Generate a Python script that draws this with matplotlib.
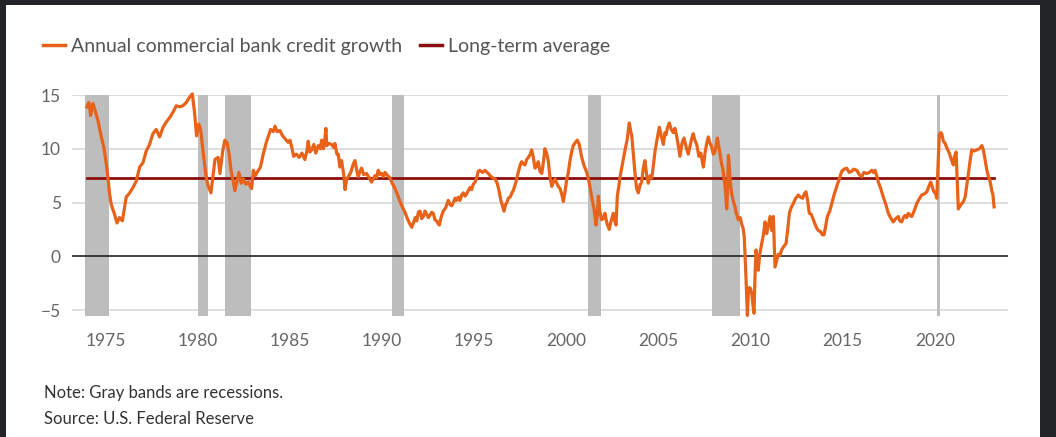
import numpy as np
import matplotlib
matplotlib.use("Agg")
import matplotlib.pyplot as plt
from matplotlib.patches import Rectangle

plt.rcParams['font.family'] = ['Lato', 'DejaVu Sans']

# Annual commercial bank credit growth, % (decimal year, value)
years = [
    1973.98, 1974.09, 1974.18, 1974.31, 1974.40, 1974.58, 1974.76, 1974.90, 1975.03, 1975.12,
    1975.21, 1975.30, 1975.48, 1975.61, 1975.75, 1975.90, 1976.02, 1976.11, 1976.30, 1976.48,
    1976.66, 1976.84, 1977.02, 1977.20, 1977.38, 1977.56, 1977.74, 1977.92, 1978.11, 1978.29,
    1978.47, 1978.65, 1978.83, 1979.01, 1979.19, 1979.37, 1979.55, 1979.70, 1979.82, 1979.93,
    1980.05, 1980.15, 1980.30, 1980.45, 1980.55, 1980.71, 1980.80, 1980.93, 1981.10, 1981.20,
    1981.35, 1981.47, 1981.60, 1981.70, 1981.80, 1981.92, 1982.01, 1982.10, 1982.23, 1982.35,
    1982.47, 1982.60, 1982.74, 1982.85, 1982.92, 1983.01, 1983.12, 1983.25, 1983.40, 1983.55,
    1983.70, 1983.85, 1983.95, 1984.10, 1984.19, 1984.30, 1984.45, 1984.60, 1984.75, 1984.90,
    1985.00, 1985.09, 1985.20, 1985.35, 1985.50, 1985.65, 1985.81, 1985.92, 1985.99, 1986.08,
    1986.18, 1986.30, 1986.40, 1986.54, 1986.65, 1986.72, 1986.82, 1986.90, 1986.95, 1987.00,
    1987.12, 1987.26, 1987.38, 1987.44, 1987.55, 1987.62, 1987.71, 1987.80, 1987.92, 1987.99,
    1988.08, 1988.17, 1988.30, 1988.44, 1988.53, 1988.62, 1988.71, 1988.80, 1988.89, 1989.00,
    1989.16, 1989.30, 1989.43, 1989.52, 1989.61, 1989.70, 1989.79, 1989.90, 1989.98, 1990.07,
    1990.16, 1990.30, 1990.43, 1990.55, 1990.70, 1990.80, 1990.97, 1991.10, 1991.24, 1991.40,
    1991.51, 1991.61, 1991.70, 1991.80, 1991.88, 1991.97, 1992.06, 1992.15, 1992.24, 1992.33,
    1992.42, 1992.51, 1992.60, 1992.69, 1992.78, 1992.87, 1992.96, 1993.05, 1993.11, 1993.20,
    1993.32, 1993.45, 1993.59, 1993.70, 1993.78, 1993.87, 1993.96, 1994.05, 1994.14, 1994.23,
    1994.32, 1994.41, 1994.50, 1994.59, 1994.68, 1994.77, 1994.86, 1994.95, 1995.05, 1995.14,
    1995.22, 1995.31, 1995.45, 1995.59, 1995.70, 1995.77, 1995.86, 1996.00, 1996.13, 1996.25,
    1996.35, 1996.45, 1996.55, 1996.62, 1996.70, 1996.78, 1996.85, 1996.95, 1997.05, 1997.12,
    1997.25, 1997.39, 1997.50, 1997.58, 1997.66, 1997.76, 1997.85, 1997.94, 1998.05, 1998.12,
    1998.20, 1998.30, 1998.40, 1998.48, 1998.57, 1998.67, 1998.76, 1998.84, 1998.93, 1999.02,
    1999.11, 1999.21, 1999.30, 1999.39, 1999.48, 1999.57, 1999.66, 1999.75, 1999.84, 1999.93,
    2000.02, 2000.11, 2000.20, 2000.30, 2000.38, 2000.50, 2000.60, 2000.70, 2000.84, 2000.95,
    2001.11, 2001.25, 2001.38, 2001.50, 2001.61, 2001.68, 2001.74, 2001.82, 2001.92, 2002.00,
    2002.10, 2002.20, 2002.33, 2002.42, 2002.55, 2002.63, 2002.70, 2002.77, 2002.85, 2002.92,
    2003.05, 2003.19, 2003.30, 2003.42, 2003.50, 2003.55, 2003.64, 2003.73, 2003.82, 2003.91,
    2004.00, 2004.09, 2004.18, 2004.27, 2004.36, 2004.45, 2004.55, 2004.64, 2004.73, 2004.82,
    2004.93, 2005.05, 2005.15, 2005.27, 2005.35, 2005.41, 2005.50, 2005.59, 2005.70, 2005.81,
    2005.90, 2005.99, 2006.08, 2006.17, 2006.28, 2006.39, 2006.50, 2006.62, 2006.72, 2006.80,
    2006.89, 2006.98, 2007.08, 2007.20, 2007.30, 2007.44, 2007.53, 2007.62, 2007.71, 2007.80,
    2007.89, 2007.98, 2008.07, 2008.20, 2008.27, 2008.34, 2008.43, 2008.49, 2008.56, 2008.62,
    2008.71, 2008.76, 2008.80, 2008.85, 2008.89, 2008.98, 2009.07, 2009.16, 2009.21, 2009.34,
    2009.44, 2009.52, 2009.60, 2009.66, 2009.72, 2009.76, 2009.83, 2009.88, 2009.94, 2010.00,
    2010.07, 2010.13, 2010.19, 2010.24, 2010.30, 2010.36, 2010.42, 2010.50, 2010.61, 2010.70,
    2010.79, 2010.84, 2010.88, 2010.97, 2011.06, 2011.15, 2011.20, 2011.24, 2011.28, 2011.33,
    2011.42, 2011.51, 2011.60, 2011.69, 2011.80, 2011.93, 2012.02, 2012.11, 2012.20, 2012.32,
    2012.45, 2012.60, 2012.70, 2012.83, 2012.92, 2013.01, 2013.10, 2013.19, 2013.30, 2013.41,
    2013.50, 2013.60, 2013.68, 2013.80, 2013.90, 2013.99, 2014.08, 2014.17, 2014.30, 2014.41,
    2014.55, 2014.68, 2014.80, 2014.95, 2015.08, 2015.22, 2015.35, 2015.49, 2015.60, 2015.77,
    2015.90, 2016.04, 2016.15, 2016.31, 2016.45, 2016.58, 2016.67, 2016.76, 2016.85, 2016.94,
    2017.05, 2017.21, 2017.35, 2017.48, 2017.60, 2017.75, 2017.88, 2018.02, 2018.10, 2018.21,
    2018.30, 2018.39, 2018.48, 2018.57, 2018.66, 2018.75, 2018.88, 2019.02, 2019.15, 2019.29,
    2019.43, 2019.57, 2019.68, 2019.78, 2019.86, 2019.93, 2020.05, 2020.11, 2020.18, 2020.25,
    2020.32, 2020.38, 2020.47, 2020.56, 2020.68, 2020.79, 2020.90, 2021.01, 2021.08, 2021.16,
    2021.22, 2021.28, 2021.38, 2021.47, 2021.56, 2021.65, 2021.74, 2021.83, 2021.92, 2022.01,
    2022.15, 2022.29, 2022.42, 2022.56, 2022.65, 2022.74, 2022.83, 2022.92, 2023.00, 2023.10,
    2023.16, 2023.22,
]
growth = [
    13.9, 14.3, 13.1, 14.2, 13.7, 12.6, 11.1, 10.1, 8.6, 7.3,
    5.8, 4.8, 3.9, 3.1, 3.6, 3.3, 4.5, 5.5, 5.9, 6.4,
    7.0, 8.3, 8.7, 9.8, 10.4, 11.4, 11.8, 11.1, 12.0, 12.5,
    12.9, 13.4, 14.0, 13.9, 14.0, 14.3, 14.8, 15.1, 13.4, 11.2,
    12.3, 11.8, 9.5, 7.4, 6.6, 5.9, 7.2, 9.0, 9.2, 7.7,
    9.8, 10.8, 10.5, 9.5, 8.0, 7.0, 6.1, 6.8, 7.8, 6.8,
    7.2, 6.7, 6.9, 6.5, 6.3, 8.0, 7.5, 7.9, 8.3, 9.5,
    10.5, 11.3, 11.8, 11.6, 12.1, 11.6, 11.7, 11.2, 10.9, 10.6,
    10.8, 10.2, 9.3, 9.5, 9.2, 9.6, 9.0, 9.8, 10.7, 9.7,
    9.9, 10.4, 9.6, 10.3, 10.0, 10.8, 10.0, 11.0, 11.9, 10.3,
    10.5, 10.4, 10.1, 10.5, 9.5, 9.5, 8.3, 8.9, 7.6, 6.2,
    7.2, 7.4, 7.8, 8.6, 8.9, 8.0, 7.4, 7.9, 8.2, 7.6,
    7.7, 7.3, 6.9, 7.2, 7.5, 7.3, 8.0, 7.6, 7.7, 7.4,
    7.8, 7.5, 7.3, 6.8, 6.3, 5.9, 5.1, 4.6, 4.1, 3.4,
    3.0, 2.7, 3.1, 3.6, 3.3, 4.1, 4.2, 3.5, 3.7, 4.2,
    3.9, 3.6, 3.8, 4.1, 4.0, 3.4, 3.3, 3.0, 2.9, 3.6,
    4.2, 4.5, 5.2, 4.8, 4.7, 5.0, 5.4, 5.2, 5.5, 5.2,
    5.7, 5.9, 5.6, 5.8, 6.1, 6.4, 6.2, 6.7, 6.9, 7.3,
    7.9, 8.0, 7.8, 8.0, 7.8, 7.7, 7.5, 7.3, 7.2, 6.8,
    6.1, 5.2, 4.6, 4.2, 4.8, 5.0, 5.4, 5.5, 5.9, 6.1,
    6.8, 7.8, 8.5, 8.8, 8.6, 8.5, 9.0, 9.2, 9.5, 9.9,
    9.3, 8.2, 8.4, 8.8, 7.9, 7.7, 8.8, 10.0, 9.6, 8.9,
    7.4, 6.5, 6.9, 7.2, 6.8, 6.5, 6.3, 5.8, 5.1, 6.0,
    7.1, 7.8, 8.9, 9.8, 10.3, 10.6, 10.8, 10.4, 9.2, 8.5,
    7.8, 6.8, 5.5, 4.5, 2.9, 3.8, 5.6, 4.2, 3.4, 3.5,
    4.0, 3.1, 2.5, 3.2, 4.0, 3.3, 2.9, 5.6, 6.5, 7.4,
    8.6, 9.9, 10.8, 12.4, 11.6, 11.3, 9.5, 7.7, 6.3, 5.9,
    6.6, 6.9, 8.2, 8.9, 7.6, 6.8, 7.5, 7.3, 8.5, 9.8,
    10.9, 12.0, 11.2, 10.4, 11.5, 11.3, 12.0, 12.4, 11.8, 11.5,
    11.9, 11.2, 10.3, 9.3, 10.5, 11.0, 10.2, 9.5, 10.3, 10.9,
    11.4, 10.8, 10.4, 9.3, 9.6, 8.3, 9.6, 10.5, 11.1, 10.5,
    10.2, 9.5, 9.7, 11.0, 10.3, 9.6, 8.6, 8.2, 7.3, 6.5,
    4.4, 6.5, 9.4, 8.4, 7.1, 5.8, 5.1, 4.6, 4.1, 3.4,
    3.6, 3.0, 2.6, 1.8, -0.5, -2.2, -5.5, -3.5, -2.9, -3.0,
    -3.5, -4.5, -5.3, -2.0, 0.6, -0.3, -1.3, 0.2, 1.2, 2.0,
    3.2, 2.4, 2.1, 2.9, 3.7, 2.4, 3.1, 3.7, 1.5, -1.0,
    -0.4, 0.2, 0.1, 0.6, 0.9, 1.2, 2.5, 4.0, 4.5, 4.9,
    5.4, 5.7, 5.5, 5.4, 5.8, 6.0, 5.2, 4.0, 3.9, 3.4,
    3.0, 2.6, 2.4, 2.3, 2.0, 2.0, 2.8, 3.7, 4.2, 4.9,
    5.8, 6.5, 7.1, 7.9, 8.1, 8.2, 7.8, 7.9, 8.1, 8.0,
    7.6, 7.4, 7.8, 7.7, 7.8, 8.0, 7.8, 8.0, 7.5, 6.9,
    6.4, 5.5, 4.8, 4.0, 3.6, 3.2, 3.5, 3.7, 3.3, 3.2,
    3.6, 3.8, 3.6, 4.0, 3.8, 3.7, 4.2, 4.9, 5.3, 5.7,
    5.8, 6.0, 6.5, 6.9, 6.5, 6.1, 5.8, 5.4, 8.5, 11.3,
    11.5, 11.4, 10.7, 10.5, 10.0, 9.6, 9.0, 8.5, 9.3, 9.7,
    7.0, 4.4, 4.7, 4.9, 5.1, 5.5, 6.6, 7.7, 8.9, 9.9,
    9.8, 9.9, 10.0, 10.3, 9.8, 8.9, 8.0, 7.4, 7.0, 6.1,
    5.7, 4.6,
]
long_term_avg = 7.3

# recession periods (start, end)
recessions = [
    (1973.87, 1975.20), (1980.00, 1980.55), (1981.50, 1982.88),
    (1990.55, 1991.20), (2001.20, 2001.88), (2007.92, 2009.45),
    (2020.10, 2020.30),
]

xticks = [1975, 1980, 1985, 1990, 1995, 2000, 2005, 2010, 2015, 2020]
yticks = [-5, 0, 5, 10, 15]

orange = '#e8621a'
darkred = '#8c0f0f'

fig = plt.figure(figsize=(10.56, 4.37), dpi=100, facecolor='#222428')
# white card
fig.patches.append(Rectangle((0.006, 0), 0.979, 0.988, transform=fig.transFigure,
                             facecolor='white', edgecolor='none', zorder=-10))

ax = fig.add_axes([0.0682, 0.2769, 0.8864, 0.5057])
ax.set_facecolor('white')

for start, end in recessions:
    ax.axvspan(start, end, color='#bdbdbd', lw=0, zorder=1)

for y in yticks:
    if y != 0:
        ax.axhline(y, color='#d4d4d4', lw=1.1, zorder=0)
ax.axhline(0, color='#222222', lw=1.2, zorder=2)

ax.plot(years, growth, color=orange, lw=2.3, zorder=4, clip_on=False,
        solid_joinstyle='round')
ax.plot([years[0], years[-1]], [long_term_avg, long_term_avg], color=darkred,
        lw=2.0, zorder=3)

ax.set_xlim(1973.17, 2023.98)
ax.set_ylim(-5.55, 15)
ax.set_xticks(xticks)
ax.set_xticklabels([str(t) for t in xticks])
ax.set_yticks(yticks)
ax.set_yticklabels(['\u22125', '0', '5', '10', '15'])
ax.tick_params(length=0, labelsize=12.5, colors='#666666')
ax.tick_params(axis='x', pad=12)
ax.tick_params(axis='y', pad=8)
for s in ax.spines.values():
    s.set_visible(False)

# legend
handles = [plt.Line2D([], [], color=orange, lw=2.5),
           plt.Line2D([], [], color=darkred, lw=2.5)]
fig.legend(handles, ['Annual commercial bank credit growth', 'Long-term average'],
           loc='center left', bbox_to_anchor=(0.041, 0.894), ncol=2, frameon=False,
           fontsize=14, handlelength=1.1, handletextpad=0.35,
           columnspacing=0.9, borderpad=0, borderaxespad=0, labelcolor='#555555')

fig.text(0.042, 1 - 393 / 437, 'Note: Gray bands are recessions.', fontsize=12,
         color='#333333', va='center')
fig.text(0.042, 1 - 419 / 437, 'Source: U.S. Federal Reserve', fontsize=12,
         color='#333333', va='center')

fig.savefig('out.png', dpi=100, facecolor=fig.get_facecolor())
